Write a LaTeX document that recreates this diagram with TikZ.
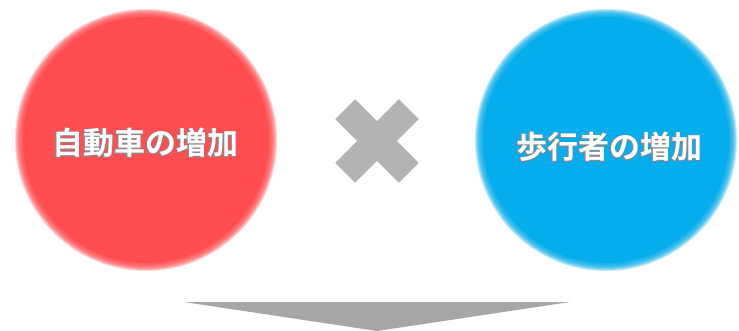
\documentclass[tikz,border=0pt]{standalone}
\usepackage{fontspec}
\newfontfamily\jpfont{Noto Sans CJK JP}[BoldFont={* Bold}]
\definecolor{cred}{HTML}{FF4D50}
\definecolor{cblue}{HTML}{05ADEC}
\definecolor{xgray}{HTML}{B3B3B3}
\definecolor{agray}{HTML}{A6A6A6}
\definecolor{outl}{HTML}{8A8A8A}
\tikzset{
  lbl/.style={font=\jpfont\bfseries\fontsize{31}{33}\selectfont, inner sep=0pt},
}
\newcommand{\softdisc}[4]{% name, x, y, color
  \fill[#4] (#2,#3) circle[radius=123];
  \foreach \i in {1,...,8}{
    \fill[#4, opacity=0.25] (#2,#3) circle[radius=123+\i];
  }
  \coordinate (#1) at (#2,#3);
}
\newcommand{\outlinedtext}[3]{% name, position, text
  \foreach \dx/\dy in {0.6/0,-0.6/0,0/0.6,0/-0.6,0.45/0.45,-0.45/0.45,0.45/-0.45,-0.45/-0.45}{
    \node[lbl, text=outl] at ([shift={(\dx,\dy)}]#2) {#3};
  }
  \node[lbl, text=white] (#1) at (#2) {#3};
}
\begin{document}
\begin{tikzpicture}[x=1pt,y=-1pt]
\useasboundingbox (0,0) rectangle (739,331);
\fill[white] (0,0) rectangle (739,331);
% discs
\softdisc{car}{146}{140}{cred}
\softdisc{ped}{606}{140}{cblue}
% labels
\outlinedtext{cartext}{145,143}{自動車の増加}
\outlinedtext{pedtext}{609,147}{歩行者の増加}
% cross
\node (cross) at (377,141) {};
\begin{scope}[shift={(377,141)}]
  \fill[xgray, rotate=45] (-45,-14) rectangle (45,14);
  \fill[xgray, rotate=-45] (-45,-14) rectangle (45,14);
\end{scope}
% arrow
\coordinate (al) at (184,302);
\coordinate (ar) at (570,302);
\coordinate (at) at (377,331);
\fill[agray] (al) -- (ar) -- (at) -- cycle;
\end{tikzpicture}
\end{document}
